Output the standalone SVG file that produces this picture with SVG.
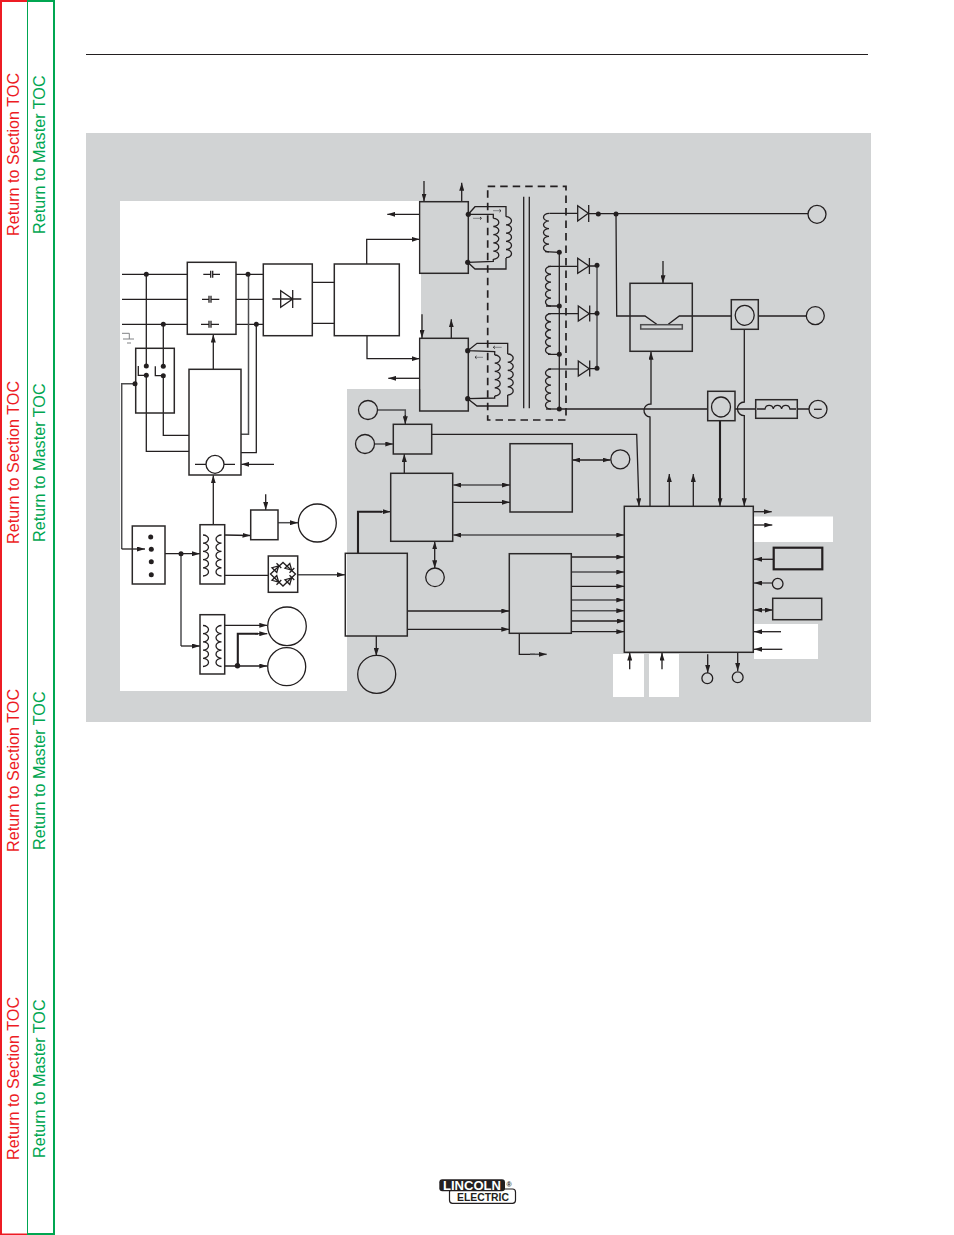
<svg xmlns="http://www.w3.org/2000/svg" xmlns:xlink="http://www.w3.org/1999/xlink" width="954" height="1235" viewBox="0 0 954 1235">
<style>
.l{fill:none;stroke:#231f20;stroke-width:1.3}
.g{fill:none;stroke:#4d4d4f;stroke-width:1.5}
.t{fill:none;stroke:#231f20;stroke-width:2.1}
.b{fill:none;stroke:#2b2829;stroke-width:1.5}
.bk{fill:none;stroke:#231f20;stroke-width:2.2}
.a{marker-end:url(#ah)}
.d{marker-start:url(#ah);marker-end:url(#ah)}
.dot{fill:#231f20}
.red{font:16.2px "Liberation Sans",Arial,sans-serif;fill:#ed1c24}
.grn{font:16.2px "Liberation Sans",Arial,sans-serif;fill:#00a651}
</style>
<defs>
<marker id="ah" viewBox="0 0 8 5" refX="8" refY="2.5" markerWidth="8" markerHeight="5" markerUnits="userSpaceOnUse" orient="auto-start-reverse"><path d="M0 0L8 2.5L0 5Z" fill="#231f20"/></marker>
<path id="coil" class="l" d="M0 0a5.5 4.1 0 0 1 0 8.2a5.5 4.1 0 0 1 0 8.2a5.5 4.1 0 0 1 0 8.2a5.5 4.1 0 0 1 0 8.2a5.5 4.1 0 0 1 0 8.2"/>
<path id="dio" class="l" d="M-3-3.4V3.4L3 0ZM3.4-3.4V3.4"/>
</defs>
<g id="sidebar">
<rect x="0" y="0" width="2" height="1235" fill="#ed1c24"/>
<rect x="0" y="0" width="27" height="2" fill="#ed1c24"/>
<rect x="0" y="1233.5" width="27" height="1.5" fill="#ed1c24"/>
<rect x="27" y="0" width="1" height="1235" fill="#00a651"/>
<rect x="27" y="0" width="27" height="2" fill="#00a651"/>
<rect x="27" y="1233" width="27" height="2" fill="#00a651"/>
<rect x="53" y="0" width="2" height="1235" fill="#00a651"/>
<text class="red" transform="translate(18.5 236) rotate(-90)">Return to Section TOC</text>
<text class="grn" transform="translate(45 234) rotate(-90)">Return to Master TOC</text>
<text class="red" transform="translate(18.5 544) rotate(-90)">Return to Section TOC</text>
<text class="grn" transform="translate(45 542) rotate(-90)">Return to Master TOC</text>
<text class="red" transform="translate(18.5 852) rotate(-90)">Return to Section TOC</text>
<text class="grn" transform="translate(45 850) rotate(-90)">Return to Master TOC</text>
<text class="red" transform="translate(18.5 1160) rotate(-90)">Return to Section TOC</text>
<text class="grn" transform="translate(45 1158) rotate(-90)">Return to Master TOC</text>
</g>
<path d="M86 54.5H868" stroke="#231f20" stroke-width="1" fill="none"/>
<g id="background">
<rect x="86" y="133" width="785" height="589" fill="#d1d3d4"/>
<path d="M120 201H421V389H347V691H120Z" fill="#fff"/>
<rect x="754" y="516.5" width="79" height="25.5" fill="#fff"/>
<rect x="754" y="624" width="64" height="35" fill="#fff"/>
<rect x="613" y="654" width="31" height="43" fill="#fff"/>
<rect x="649" y="654" width="30" height="43" fill="#fff"/>
</g>
<g id="connectors">
<path class="l" d="M122 274.3H187M122 299.3H187M122 324.3H187M146.3 274.3V366M163.3 324.3V366.3M146.3 375.3V451.3H189M163.3 375.7V435.3H189"/>
<path class="l" d="M236 274.3H263M236 299.3H263M236 324.3H263"/>
<path class="g" d="M241 434.3H248.5V274.3"/>
<path class="l" d="M241 452.7H256.3V324.3"/>
<path class="l" d="M312.3 282.3H334M312.3 323.3H334"/>
<path class="l a" d="M366.7 264V239.3H419.5"/>
<path class="l a" d="M367 335.7V358.7H419.5"/>
<path class="l a" d="M419.7 214.3H387.3"/>
<path class="l a" d="M419.7 378.3H388.3"/>
<path class="l a" d="M424 181V201.5"/>
<path class="l a" d="M461.7 201.7V182.7"/>
<path class="l a" d="M422 314.3V338"/>
<path class="l a" d="M451.3 338.3V319.3"/>
<path class="l a" d="M213.3 369.3V334.5"/>
<path class="l a" d="M213.3 524.7V475.3"/>
<path class="l a" d="M274 464.3H241.3"/>
<path class="g" d="M135 383.7H121.7V549"/>
<path class="l a" d="M121.7 549H145"/>
<path class="l a" d="M165 553.7H200"/>
<path class="g" d="M181 553.7V646"/>
<path class="l a" d="M181 646H200"/>
<path class="l a" d="M224.7 535L250.5 535.5"/>
<path class="l a" d="M265.7 494.3V510"/>
<path class="g a" d="M278 522.7H298"/>
<path class="l" d="M224.7 575.3H268.3"/>
<path class="g a" d="M297.7 574.7H345"/>
<path class="l a" d="M224.7 625.3H267.3"/>
<path class="l a" d="M224.7 666H267.3"/>
<path class="t" d="M237.8 665.7V633.7H258"/>
<path class="l a" d="M255 633.7H267.3"/>
<path class="t" d="M358 553V511.7H382"/>
<path class="l a" d="M380 511.7H390.5"/>
<path class="l a" d="M376.3 636V656"/>
<path class="g" d="M377.7 410H405.3V418"/>
<path class="l a" d="M405.3 415V424.3"/>
<path class="g a" d="M375 444H393.3"/>
<path class="l a" d="M404.3 473.3V454"/>
<path class="g d" d="M453.3 485H510"/>
<path class="l a" d="M453.3 502.3H510"/>
<path class="l d" d="M572.3 460H610.5"/>
<path class="g d" d="M453.3 535H624.3"/>
<path class="l d" d="M434.7 541.3V568.3"/>
<path class="l a" d="M407.3 611H509.3"/>
<path class="l a" d="M407.3 629.3H509.3"/>
<path class="l" d="M519.3 633.3V654.3H535"/>
<path class="g a" d="M530 654.3H546.7"/>
<path class="l a" d="M571.3 557H624.3"/>
<path class="g a" d="M571.3 572H624.3"/>
<path class="l a" d="M571.3 586.3H624.3"/>
<path class="g a" d="M571.3 600H624.3"/>
<path class="g a" d="M571.3 610.7H624.3"/>
<path class="l a" d="M571.3 621H625"/>
<path class="l a" d="M571.3 631.7H624.3"/>
<path class="l a" d="M431.7 434.3H636.7L639 506.3"/>
<path class="l" style="marker-start:url(#ah)" d="M651 351.7V404A6.5 6.5 0 0 0 650 417V506.3"/>
<path class="l a" d="M669.3 506.3V474"/>
<path class="l a" d="M693.3 506.3V474"/>
<path class="t" d="M720 420.7V500"/>
<path class="l a" d="M720 495V506.3"/>
<path class="l a" d="M744.3 329.3V402A6.5 6.5 0 0 0 744.3 415.7V506.3"/>
<path class="l a" d="M754 511.7H771.7"/>
<path class="l a" d="M754 525H772.3"/>
<path class="l a" d="M773.7 559.3H754"/>
<path class="g a" d="M772.5 583H754"/>
<path class="l d" d="M772.7 610H754"/>
<path class="l a" d="M781 631.7H754"/>
<path class="l a" d="M782.3 649.3H754"/>
<path class="l a" d="M629.7 669.3V652.5"/>
<path class="l a" d="M662 669.3V652.5"/>
<path class="l a" d="M707.7 654.3V673"/>
<path class="l a" d="M737.7 652.3V671"/>
<path class="l" d="M549.3 213.3H577.7M545 251.7L559.3 252.3M548 266.3H577.7M546 306H559.3M548.3 313.7H578.3M548 354.3H559.3"/>
<path class="g" d="M548.3 369H578.3"/>
<path class="l" d="M546 409H559.3"/>
<path class="l" d="M559.3 252.3V409"/>
<path class="l" d="M589 213.7H616H808"/>
<path class="g" d="M597 265.3V368.3"/>
<path class="l" d="M589 266H597M589.3 313.7H597M589.3 368.7H597"/>
<path class="l" d="M616 214L616.7 316H645L656.7 324.3M668.3 324.3L679.3 316H731.3M758.3 316H806.3"/>
<path class="l a" d="M663 261V283.3"/>
<path class="l" d="M559.3 409H707.7M735 409H755.7M797.3 409H809"/>
</g>
<g id="capacitor-bank">
<rect class="b" x="187.3" y="262.3" width="48.7" height="72"/>
<path class="l" d="M203.3 274.3H210.7M210.7 270.8V277.8M212.7 270.8V277.8M212.7 274.3H220M202 299.3H209M209 295.8V302.8M211 295.8V302.8M211 299.3H219.3M201 324.3H209M209 320.8V327.8M211 320.8V327.8M211 324.3H219"/>
</g>
<g id="rectifier">
<rect class="b" x="263.3" y="264" width="49" height="71.7"/>
<path class="l" d="M272.3 299H301.3M280.7 290.7V307.3L292.7 299ZM292.7 290V308"/>
</g>
<g id="chopper"><rect class="b" x="334.3" y="264" width="65" height="71.7"/></g>
<g id="ground"><path fill="none" stroke="#808285" stroke-width="1" d="M122 333.3H129.3V339M123 339H134M127 343H131"/></g>
<g id="switch">
<rect class="b" x="135.7" y="348.3" width="38.6" height="64.7"/>
<path class="l" d="M138.3 366V375.3H146.3M155.3 366.3V375.7H163.3"/>
</g>
<g id="control-board">
<rect class="b" x="189" y="369.3" width="52" height="105.7"/>
<circle class="l" cx="215" cy="464.3" r="9"/>
<path class="l" d="M195 464.3H206M224 464.3H235"/>
</g>
<g id="terminal-strip"><rect class="b" x="132.3" y="526" width="32.7" height="58"/></g>
<g id="transformer-1">
<rect class="b" x="200" y="524.7" width="24.7" height="59.3"/>
<use href="#coil" transform="translate(203 535)"/>
<use href="#coil" transform="translate(221.5 535) scale(-1 1)"/>
</g>
<g id="transformer-2">
<rect class="b" x="200" y="614.7" width="24.7" height="59.3"/>
<use href="#coil" transform="translate(203 625.5)"/>
<use href="#coil" transform="translate(221.5 625.5) scale(-1 1)"/>
</g>
<g id="regulator"><rect class="b" x="250.7" y="510" width="27.3" height="29.7"/></g>
<g id="bridge">
<rect class="b" x="268.3" y="556" width="29.4" height="36.3"/>
<path class="l" d="M270.5 574L283 562.5L295.5 574L283 586Z"/>
<use href="#dio" transform="translate(276.5 568) rotate(-45)"/>
<use href="#dio" transform="translate(289.5 568) rotate(45)"/>
<use href="#dio" transform="translate(276.5 580) rotate(45)"/>
<use href="#dio" transform="translate(289.5 580) rotate(-45)"/>
</g>
<g id="circles">
<circle class="l" cx="317.3" cy="523" r="19"/>
<circle class="l" cx="287" cy="626.3" r="19.3"/>
<circle class="l" cx="286.7" cy="666.7" r="19"/>
<circle class="l" cx="376.7" cy="674.3" r="19"/>
<circle class="l" cx="368" cy="410" r="9.5"/>
<circle class="l" cx="365" cy="444" r="9.5"/>
<circle class="l" cx="620.3" cy="459.3" r="9.5"/>
<circle class="l" cx="435" cy="577.3" r="9.3"/>
<circle class="l" cx="817" cy="214.3" r="9"/>
<circle class="l" cx="815.3" cy="315.7" r="9"/>
<circle class="l" cx="818" cy="409.3" r="9"/>
<path class="l" d="M814 409.3H821.7"/>
<circle class="l" cx="777.7" cy="583.7" r="5.3"/>
<circle class="l" cx="707.3" cy="678.3" r="5.4"/>
<circle class="l" cx="737.7" cy="677.3" r="5.4"/>
</g>
<g id="power-board"><rect class="b" x="345.3" y="553.3" width="62" height="82.7"/></g>
<g id="spi-board"><rect class="b" x="390.7" y="473.3" width="62" height="68"/></g>
<g id="small-box"><rect class="b" x="393.3" y="424.3" width="38.4" height="29.7"/></g>
<g id="interface"><rect class="b" x="510" y="443.7" width="62.3" height="68.3"/></g>
<g id="io-board"><rect class="b" x="509.3" y="553.7" width="62" height="79.6"/></g>
<g id="main-board"><rect class="b" x="624.3" y="506.3" width="129" height="146"/></g>
<g id="box-a"><rect class="bk" x="773.7" y="547.7" width="48.6" height="21.6"/></g>
<g id="box-b"><rect class="b" x="772.7" y="598.3" width="49" height="21.4"/></g>
<g id="igbt">
<rect class="b" x="630" y="283.3" width="62.3" height="68"/>
<rect class="g" x="640.7" y="324.7" width="41.6" height="4.3"/>
</g>
<g id="sensor-1">
<rect class="b" x="731.3" y="299.7" width="27" height="29.6"/>
<ellipse class="l" cx="744.7" cy="315.3" rx="9.5" ry="10"/>
</g>
<g id="sensor-2">
<rect class="b" x="707.7" y="391.3" width="27.3" height="29.4"/>
<ellipse class="l" cx="721" cy="407" rx="9.5" ry="10"/>
</g>
<g id="inductor">
<rect class="b" x="755.7" y="399.7" width="41.6" height="18.6"/>
<path class="l" d="M757 409H765a4.2 4.4 0 0 1 8.3 0a4.2 4.4 0 0 1 8.3 0a4.2 4.4 0 0 1 8.3 0H796"/>
</g>
<g id="inverter-1">
<rect class="b" x="419.7" y="201.7" width="48.6" height="71.6"/>
<path class="l" d="M468.3 214.3L475 206.7H506V216.7M506 258V269H475L467.7 262.3M468.3 214.3H493.3V218.3M493.3 259V261.3L467.7 262.3"/>
<use href="#coil" transform="translate(493.3 218.3)"/>
<use href="#coil" transform="translate(506 216.7)"/>
<path fill="none" stroke="#808285" stroke-width="1" d="M473 218.3H481M493 210.7H501"/>
<path fill="none" stroke="#231f20" stroke-width=".9" d="M480 217L481.5 218.3L480 219.6M499.5 209.4L501 210.7L499.5 212"/>
</g>
<g id="inverter-2">
<rect class="b" x="419.7" y="338.3" width="48.6" height="72.7"/>
<path class="l" d="M467.7 350.7L477 343.3H507.7V354M507.7 395V406H477L467.7 398.7M467.7 350.7L494.7 351.7V355M494.7 396V398L467.7 398.7"/>
<use href="#coil" transform="translate(494.7 355)"/>
<use href="#coil" transform="translate(507.7 354)"/>
<path fill="none" stroke="#808285" stroke-width="1" d="M475 357.3H483M493.3 347.3H501.7"/>
<path fill="none" stroke="#231f20" stroke-width=".9" d="M476.5 356L475 357.3L476.5 358.6M494.8 346L493.3 347.3L494.8 348.6"/>
</g>
<g id="main-transformer">
<rect x="487.7" y="186.3" width="78.3" height="233.7" fill="none" stroke="#231f20" stroke-width="1.7" stroke-dasharray="7.5 5"/>
<path class="l" d="M523.7 196.7V408.3M529.3 196.7V408.3"/>
<use href="#coil" transform="translate(549 213.3) scale(-1 .94)"/>
<use href="#coil" transform="translate(551 266.3) scale(-1 .97)"/>
<use href="#coil" transform="translate(551 313.7) scale(-1 .99)"/>
<use href="#coil" transform="translate(551 369) scale(-1 .98)"/>
</g>
<g id="output-diodes">
<path class="l" d="M577.7 205.7V221L588.3 213.3ZM588.7 205V222M577.7 258.3V273.3L589 266ZM589.4 258V274M578.3 306V321L589.3 313.7ZM589.7 305.5V321.5M578.3 361V376L589.3 368.7ZM589.7 360.5V376.5"/>
</g>
<g id="junctions" class="dot">
<circle cx="146.3" cy="274.3" r="2.5"/><circle cx="163.3" cy="324.3" r="2.5"/><circle cx="248" cy="274.3" r="2.5"/><circle cx="256.3" cy="324.3" r="2.5"/>
<circle cx="146.3" cy="366" r="2.5"/><circle cx="146.3" cy="375.3" r="2.5"/><circle cx="163.3" cy="366.3" r="2.5"/><circle cx="163.3" cy="375.7" r="2.5"/><circle cx="135" cy="383.7" r="2.5"/>
<circle cx="150.7" cy="537" r="2.5"/><circle cx="151.3" cy="549.3" r="2.5"/><circle cx="151.3" cy="561.7" r="2.5"/><circle cx="151.3" cy="574.7" r="2.5"/>
<circle cx="181" cy="553.7" r="2.5"/><circle cx="237.5" cy="665.7" r="2.7"/>
<circle cx="468.3" cy="214.3" r="2.6"/><circle cx="467.7" cy="262.3" r="2.6"/><circle cx="467.7" cy="350.7" r="2.6"/><circle cx="467.7" cy="398.7" r="2.6"/>
<circle cx="559.3" cy="252.3" r="2.5"/><circle cx="559.3" cy="306" r="2.5"/><circle cx="559.3" cy="354.3" r="2.5"/><circle cx="559.3" cy="409" r="2.5"/>
<circle cx="598.3" cy="214" r="2.5"/><circle cx="616" cy="214" r="2.5"/><circle cx="597" cy="265.3" r="2.5"/><circle cx="597" cy="313.3" r="2.5"/><circle cx="597" cy="368.3" r="2.5"/>
</g>
<g id="logo">
<rect x="449.5" y="1189" width="66" height="14.3" rx="3" fill="#fff" stroke="#231f20" stroke-width="1.2"/>
<rect x="439.3" y="1179.3" width="65.7" height="12" rx="3" fill="#231f20"/>
<text x="443" y="1190" textLength="58" lengthAdjust="spacingAndGlyphs" style="font:bold 12.5px 'Liberation Sans',Arial,sans-serif;fill:#fff">LINCOLN</text>
<text x="457" y="1201" textLength="52" lengthAdjust="spacingAndGlyphs" style="font:bold 10px 'Liberation Sans',Arial,sans-serif;fill:#231f20">ELECTRIC</text>
<text x="506.5" y="1187" style="font:bold 7px 'Liberation Sans',Arial,sans-serif;fill:#231f20">®</text>
</g>
</svg>
